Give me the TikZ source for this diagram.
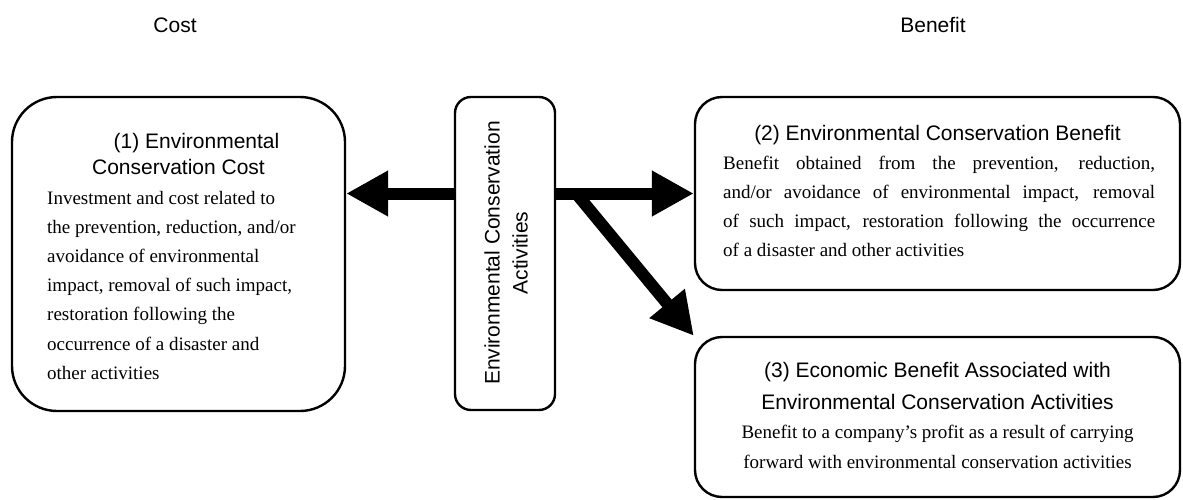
\documentclass[tikz,border=0pt]{standalone}
\usepackage{fontspec}
\setmainfont{Liberation Serif}
\newfontfamily\headfont{Liberation Sans}
\usetikzlibrary{arrows.meta,calc}

\begin{document}
\begin{tikzpicture}[x=1pt,y=-1pt,
  box/.style={draw, line width=2.4pt, inner sep=0pt, rounded corners=27pt},
  headtxt/.style={font=\headfont\fontsize{21}{26}\selectfont, inner sep=0pt, align=center},
  bodytxt/.style={font=\fontsize{19}{29.2}\selectfont, inner sep=0pt},
  fat/.style={line width=12pt, -{Triangle[length=42pt,width=43pt]}}]
\useasboundingbox (0,0) rectangle (1183,500);

% column captions
\node[headtxt] (costlbl) at (175,25) {Cost};
\node[headtxt] (benlbl) at (933,25) {Benefit};

% boxes
\node[box, rounded corners=45pt, minimum width=333pt, minimum height=314pt] (c1) at (178.5,254) {};
\node[box, rounded corners=16pt, minimum width=100pt, minimum height=313pt] (mid) at (505,253.5) {};
\node[box, minimum width=485pt, minimum height=193pt] (c2) at (937.5,193.5) {};
\node[box, minimum width=485pt, minimum height=160pt] (c3) at (937.5,417) {};

% box (1): multi-line texts are placed by the baseline of their last line
\node[headtxt, anchor=base] (h1) at (178.5,175)
  {\hspace*{36pt}(1) Environmental\\Conservation Cost};
\node[bodytxt, anchor=base west, align=left] (b1) at (47,379.2)
  {Investment and cost related to\\
   the prevention, reduction, and/or\\
   avoidance of environmental\\
   impact, removal of such impact,\\
   restoration following the\\
   occurrence of a disaster and\\
   other activities};

% centre box
\node[headtxt, rotate=90, font=\headfont\fontsize{21}{28}\selectfont] (mt) at (506,253)
  {Environmental Conservation\\Activities};

% box (2)
\node[headtxt, anchor=base] (h2) at (937.5,140) {(2) Environmental Conservation Benefit};
\node[bodytxt, anchor=base west, align=left] (b2) at (723,256.6)
  {\makebox[432pt][s]{Benefit obtained from the prevention, reduction,}\\
   \makebox[432pt][s]{and/or avoidance of environmental impact, removal}\\
   \makebox[432pt][s]{of such impact, restoration following the occurrence}\\
   of a disaster and other activities};

% box (3)
\node[headtxt, anchor=base, font=\headfont\fontsize{21}{32}\selectfont] (h3) at (937.5,409)
  {(3) Economic Benefit Associated with\\Environmental Conservation Activities};
\node[bodytxt, anchor=base, align=center, font=\fontsize{19}{30}\selectfont] (b3) at (937.5,468)
  {Benefit to a company’s profit as a result of carrying\\
   forward with environmental conservation activities};

% arrows
\coordinate (split) at ($(mid.east |- c2.west)+(20,0)$);
\draw[fat] (mid.west |- c2.west) -- (c1.east |- c2.west);
\draw[fat] (mid.east |- c2.west) -- (c2.west);
\draw[fat] (split) -- (c3.north west);
\end{tikzpicture}
\end{document}
